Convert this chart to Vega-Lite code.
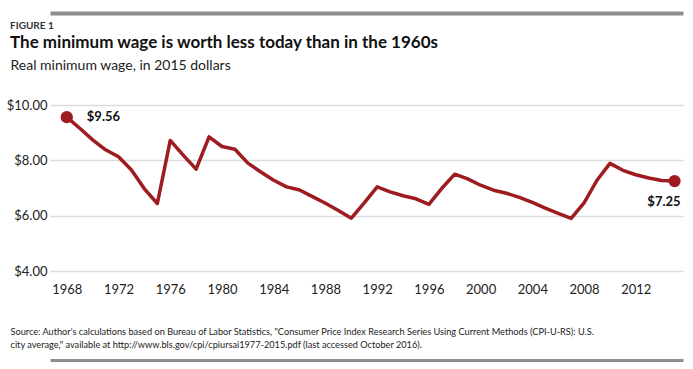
{
  "$schema": "https://vega.github.io/schema/vega-lite/v6.json",
  "width": 633,
  "height": 166,
  "autosize": "none",
  "padding": {"left": 50, "top": 105, "right": 10, "bottom": 98},
  "background": "white",
  "config": {"view": {"stroke": null}},
  "title": {
    "text": "FIGURE 1",
    "subtitle": "The minimum wage is worth less today than in the 1960s",
    "anchor": "start",
    "frame": "group",
    "dx": -40,
    "font": "Lato",
    "fontSize": 10,
    "fontWeight": "bold",
    "color": "#333333",
    "subtitleFont": "Lato",
    "subtitleFontSize": 17,
    "subtitleFontWeight": "bold",
    "subtitleColor": "#111111",
    "subtitlePadding": 4,
    "offset": -38
  },
  "data": {"values": [
    {"year": 1968, "wage": 9.56}, {"year": 1969, "wage": 9.16}, {"year": 1970, "wage": 8.74},
    {"year": 1971, "wage": 8.38}, {"year": 1972, "wage": 8.13}, {"year": 1973, "wage": 7.65},
    {"year": 1974, "wage": 6.97}, {"year": 1975, "wage": 6.44}, {"year": 1976, "wage": 8.72},
    {"year": 1977, "wage": 8.19}, {"year": 1978, "wage": 7.68}, {"year": 1979, "wage": 8.85},
    {"year": 1980, "wage": 8.50}, {"year": 1981, "wage": 8.40}, {"year": 1982, "wage": 7.90},
    {"year": 1983, "wage": 7.58}, {"year": 1984, "wage": 7.28}, {"year": 1985, "wage": 7.04},
    {"year": 1986, "wage": 6.93}, {"year": 1987, "wage": 6.69}, {"year": 1988, "wage": 6.45},
    {"year": 1989, "wage": 6.19}, {"year": 1990, "wage": 5.91}, {"year": 1991, "wage": 6.46},
    {"year": 1992, "wage": 7.04}, {"year": 1993, "wage": 6.86}, {"year": 1994, "wage": 6.72},
    {"year": 1995, "wage": 6.61}, {"year": 1996, "wage": 6.41}, {"year": 1997, "wage": 6.99},
    {"year": 1998, "wage": 7.50}, {"year": 1999, "wage": 7.33}, {"year": 2000, "wage": 7.10},
    {"year": 2001, "wage": 6.92}, {"year": 2002, "wage": 6.81}, {"year": 2003, "wage": 6.66},
    {"year": 2004, "wage": 6.48}, {"year": 2005, "wage": 6.27}, {"year": 2006, "wage": 6.08},
    {"year": 2007, "wage": 5.90}, {"year": 2008, "wage": 6.46}, {"year": 2009, "wage": 7.28},
    {"year": 2010, "wage": 7.89}, {"year": 2011, "wage": 7.64}, {"year": 2012, "wage": 7.48},
    {"year": 2013, "wage": 7.36}, {"year": 2014, "wage": 7.27}, {"year": 2015, "wage": 7.25}
  ]},
  "encoding": {
    "y": {
      "field": "wage", "type": "quantitative",
      "scale": {"domain": [4, 10], "nice": false, "zero": false},
      "axis": {
        "values": [4, 6, 8, 10], "format": "$.2f",
        "grid": true, "gridColor": "#dcdcdc", "gridWidth": 1.5,
        "domain": false, "ticks": false, "labelPadding": 3,
        "labelFont": "Lato", "labelFontSize": 13, "labelColor": "#222222",
        "title": "Real minimum wage, in 2015 dollars",
        "titleAngle": 0, "titleX": -40, "titleY": -36, "titleAlign": "left", "titleBaseline": "alphabetic",
        "titleFont": "Lato", "titleFontSize": 14, "titleFontWeight": "normal", "titleColor": "#222222"
      }
    }
  },
  "resolve": {"axis": {"x": "independent"}},
  "layer": [
    {
      "mark": {"type": "line", "color": "#9e1b20", "strokeWidth": 3.5, "strokeJoin": "round"},
      "encoding": {
        "x": {
          "field": "year", "type": "quantitative",
          "scale": {"domain": [1966.7, 2015.65], "nice": false, "zero": false},
          "axis": {
            "orient": "bottom", "offset": 89,
            "values": [1968, 1972, 1976, 1980, 1984, 1988, 1992, 1996, 2000, 2004, 2008, 2012],
            "format": "d", "grid": false, "ticks": false,
            "domain": true, "domainColor": "#8d8e91", "domainWidth": 3,
            "labelPadding": -77, "labelFont": "Lato", "labelFontSize": 13, "labelColor": "#222222",
            "title": ["Source: Author's calculations based on Bureau of Labor Statistics, \"Consumer Price Index Research Series Using Current Methods (CPI-U-RS): U.S.", "city average,\" available at http://www.bls.gov/cpi/cpiursai1977-2015.pdf (last accessed October 2016)."],
            "titleX": -40, "titleY": -33, "titleAlign": "left", "titleBaseline": "top", "titleAnchor": "start",
            "titleFont": "Lato", "titleFontSize": 9.2, "titleFontWeight": "normal", "titleColor": "#222222", "titleLineHeight": 13
          }
        }
      }
    },
    {
      "transform": [{"filter": "datum.year == 1968 || datum.year == 2015"}],
      "mark": {"type": "circle", "size": 150, "opacity": 1, "color": "#9e1b20"},
      "encoding": {
        "x": {
          "field": "year", "type": "quantitative",
          "axis": {
            "orient": "top", "offset": 92, "grid": false, "ticks": false, "labels": false, "title": null,
            "domain": true, "domainColor": "#8d8e91", "domainWidth": 4
          }
        }
      }
    },
    {
      "transform": [{"filter": "datum.year == 1968"}],
      "mark": {"type": "text", "align": "left", "baseline": "middle", "dx": 20, "font": "Lato", "fontSize": 13, "fontWeight": "bold", "color": "#111111"},
      "encoding": {
        "x": {"field": "year", "type": "quantitative", "axis": null},
        "text": {"field": "wage", "type": "quantitative", "format": "$.2f"}
      }
    },
    {
      "transform": [{"filter": "datum.year == 2015"}],
      "mark": {"type": "text", "align": "right", "baseline": "middle", "dx": 6, "dy": 21, "font": "Lato", "fontSize": 13, "fontWeight": "bold", "color": "#111111"},
      "encoding": {
        "x": {"field": "year", "type": "quantitative", "axis": null},
        "text": {"field": "wage", "type": "quantitative", "format": "$.2f"}
      }
    }
  ]
}
